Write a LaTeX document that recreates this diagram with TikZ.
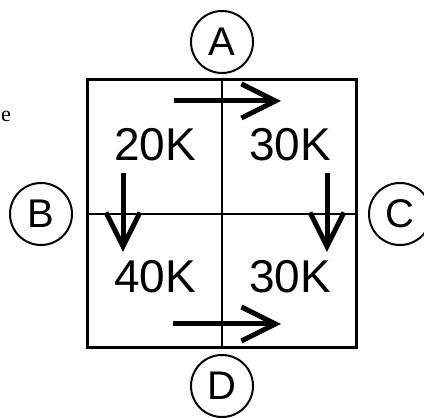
\documentclass[tikz,border=0pt]{standalone}
\usepackage{fontspec}
\setmainfont{Liberation Sans}
\newfontfamily\serifn{Liberation Serif}
\usetikzlibrary{arrows.meta}

\begin{document}
\begin{tikzpicture}[x=1pt,y=1pt,
  port/.style={draw,circle,line width=2pt,minimum size=62pt,inner sep=0pt,
    font=\fontsize{40}{40}\selectfont},
  load/.style={inner sep=0pt,font=\fontsize{46}{46}\selectfont},
  flow/.style={line width=5pt,-{Straight Barb[length=34pt,width=34pt]}}]
  \useasboundingbox (0,0) rectangle (424,418);
  % grid of four cells
  \draw[line width=3pt] (87,70) rectangle (356,338);
  \draw[line width=2.5pt] (222,70) -- (222,338);
  \draw[line width=2.5pt] (87,204) -- (356,204);
  % ports
  \node[port] (A) at (222,376) {A};
  \node[port] (B) at (41,204) {B};
  \node[port] (C) at (400,204) {C};
  \node[port] (D) at (222,32) {D};
  % loads
  \node[load] (nw) at (155,273) {20K};
  \node[load] (ne) at (290,273) {30K};
  \node[load] (sw) at (155,141) {40K};
  \node[load] (se) at (290,141) {30K};
  % flow arrows
  \coordinate (top0) at (174,317); \coordinate (top1) at (281,317);
  \coordinate (bot0) at (173,94);  \coordinate (bot1) at (281,94);
  \coordinate (lft0) at (123,245); \coordinate (lft1) at (123,166);
  \coordinate (rgt0) at (327,245); \coordinate (rgt1) at (327,166);
  \draw[flow] (top0) -- (top1);
  \draw[flow] (bot0) -- (bot1);
  \draw[flow] (lft0) -- (lft1);
  \draw[flow] (rgt0) -- (rgt1);
  % stray letter at the left edge
  \node[inner sep=0pt,font=\serifn\fontsize{22}{22}\selectfont] (e) at (6,302) {e};
\end{tikzpicture}
\end{document}
